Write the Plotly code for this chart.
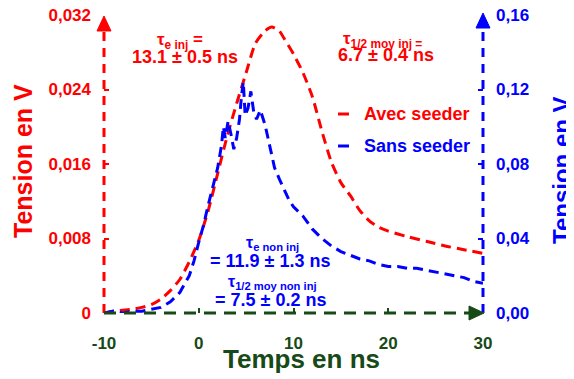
import plotly.graph_objects as go

# ---- data ----
t_avec = [-10, -9, -8, -7, -6, -5, -4, -3, -2, -1, 0, 1, 2, 3, 4, 5, 6, 7, 7.7, 8.5, 9, 10, 11, 12, 13,
          14, 15, 16, 17, 18, 19, 20, 22, 24, 26, 28, 30]
v_avec = [0.0000, 0.0002, 0.0003, 0.0004, 0.0006, 0.0009, 0.0015, 0.0024, 0.0036, 0.0055, 0.0078,
          0.0110, 0.0150, 0.0190, 0.0225, 0.0258, 0.0290, 0.0303, 0.0307, 0.0303, 0.0295, 0.0278,
          0.0258, 0.0232, 0.0195, 0.0162, 0.0140, 0.0126, 0.0110, 0.0099, 0.0092, 0.0088, 0.0082,
          0.0077, 0.0072, 0.0068, 0.0064]

t_sans = [-10, -9, -8, -7, -6, -5, -4, -3, -2, -1, -0.5, 0, 0.5, 1.0, 1.5, 2.0, 2.4, 2.6, 2.8, 3.1,
          3.4, 3.7, 4.0, 4.3, 4.5, 4.7, 4.9, 5.2, 5.5, 5.8, 6.1, 6.5, 7.0, 7.5, 8.0, 8.5, 9.0, 9.5,
          10, 11, 12, 13, 14, 15, 16, 17, 18, 19, 20, 21, 22, 23, 24, 25, 26, 27, 28, 29, 30]
v_sans = [0.000, 0.001, 0.000, 0.001, 0.001, 0.002, 0.003, 0.006, 0.011, 0.020, 0.028, 0.038, 0.047,
          0.058, 0.068, 0.078, 0.090, 0.100, 0.094, 0.103, 0.096, 0.088, 0.094, 0.104, 0.116, 0.124,
          0.106, 0.110, 0.119, 0.108, 0.104, 0.109, 0.101, 0.090, 0.078, 0.072, 0.066, 0.061, 0.057,
          0.052, 0.045, 0.040, 0.036, 0.033, 0.031, 0.029, 0.028, 0.026, 0.025, 0.025, 0.024, 0.024,
          0.023, 0.022, 0.021, 0.020, 0.019, 0.017, 0.016]

x_ticks = [-10, 0, 10, 20, 30]
x_ticklabels = ['-10', '0', '10', '20', '30']
yl_ticks = [0, 0.008, 0.016, 0.024, 0.032]
yl_ticklabels = ['0', '0,008', '0,016', '0,024', '0,032']
yr_ticks = [0, 0.04, 0.08, 0.12, 0.16]
yr_ticklabels = ['0,00', '0,04', '0,08', '0,12', '0,16']

RED = '#ff0000'
BLUE = '#0000ff'
GREEN = '#174a17'
FONT = 'Liberation Sans, Arial, sans-serif'

# page offset (body margin) and target plot area in screen pixels
OFF = 8
SW, SH = 574, 379
PL, PR, PT, PB = 104, 483, 15, 313          # plot area edges on screen
W, H = SW - OFF, SH - OFF
L, T = PL - OFF, PT - OFF
PW, PH = PR - PL, PB - PT
R, B = W - L - PW, H - T - PH


def px(x):
    return (x - PL) / PW


def py(y):
    return (PB - y) / PH


fig = go.Figure()
fig.add_trace(go.Scatter(x=t_avec, y=v_avec, mode='lines', name='Avec seeder', yaxis='y',
                         line=dict(color=RED, width=3, dash='10px,6px', shape='spline', smoothing=0.6),
                         showlegend=False))
fig.add_trace(go.Scatter(x=t_sans, y=v_sans, mode='lines', name='Sans seeder', yaxis='y2',
                         line=dict(color=BLUE, width=3, dash='10px,6px'),
                         showlegend=False))

shapes = []
# axis lines (dashed) + arrow heads
shapes.append(dict(type='line', xref='paper', yref='paper', x0=0, x1=0, y0=0, y1=py(28),
                   line=dict(color=RED, width=3, dash='9px,7px')))
shapes.append(dict(type='path', xref='paper', yref='paper', fillcolor=RED, line=dict(color=RED, width=1),
                   path=f'M {px(104)},{py(16)} L {px(97)},{py(31)} L {px(111)},{py(31)} Z'))
shapes.append(dict(type='line', xref='paper', yref='paper', x0=1, x1=1, y0=0, y1=py(26),
                   line=dict(color=BLUE, width=3, dash='9px,7px')))
shapes.append(dict(type='path', xref='paper', yref='paper', fillcolor=BLUE, line=dict(color=BLUE, width=1),
                   path=f'M {px(483)},{py(13)} L {px(476)},{py(28)} L {px(490)},{py(28)} Z'))
shapes.append(dict(type='line', xref='paper', yref='paper', x0=0, x1=px(470), y0=0, y1=0,
                   line=dict(color=GREEN, width=3, dash='12px,8px')))
shapes.append(dict(type='path', xref='paper', yref='paper', fillcolor=GREEN, line=dict(color=GREEN, width=1),
                   path=f'M {px(484)},{py(313)} L {px(469)},{py(306)} L {px(469)},{py(320)} Z'))
# legend dashes
shapes.append(dict(type='line', xref='paper', yref='paper', x0=px(338), x1=px(349), y0=py(114), y1=py(114),
                   line=dict(color=RED, width=3)))
shapes.append(dict(type='line', xref='paper', yref='paper', x0=px(338), x1=px(349), y0=py(146), y1=py(146),
                   line=dict(color=BLUE, width=3)))

annotations = []


def ann(text, x, y, color, size, angle=0, anchor='center'):
    annotations.append(dict(text=text, x=px(x), y=py(y), xref='paper', yref='paper', showarrow=False,
                            xanchor=anchor, yanchor='middle', textangle=angle,
                            font=dict(family=FONT, size=size, color=color, weight='bold')))


ann('Tension en V', 23, 161, RED, 25, -90)
ann('Tension en V', 561, 170, BLUE, 24, -90)
ann('Temps en ns', 301, 359, GREEN, 26)
ann('τ<sub>e inj</sub> =', 180, 41, RED, 17)
ann('13.1 ± 0.5 ns', 185, 57, RED, 18)
ann('τ<sub>1/2 moy inj =</sub>', 382, 40, RED, 17)
ann('6.7 ± 0.4 ns', 386, 55, RED, 18)
ann('τ<sub>e non inj</sub>', 272, 243, BLUE, 16)
ann('= 11.9 ± 1.3 ns', 270, 261, BLUE, 18)
ann('τ<sub>1/2 moy non inj</sub>', 272, 282, BLUE, 16)
ann('= 7.5 ± 0.2 ns', 270, 300, BLUE, 18)
ann('Avec seeder', 362, 114, RED, 18, anchor='left')
ann('Sans seeder', 362, 146, BLUE, 18, anchor='left')

fig.update_layout(
    width=W, height=H,
    margin=dict(l=L, r=R, t=T, b=B, pad=0, autoexpand=False),
    paper_bgcolor='white', plot_bgcolor='white',
    showlegend=False,
    shapes=shapes,
    annotations=annotations,
    xaxis=dict(range=[-10, 30], tickvals=x_ticks, ticktext=x_ticklabels, ticks='inside', ticklen=5,
               tickwidth=2, tickcolor=GREEN, showgrid=False, zeroline=False, showline=False,
               ticklabelstandoff=18, automargin=False, ticklabeloverflow='allow',
               tickfont=dict(family=FONT, size=17, color=GREEN, weight='bold')),
    yaxis=dict(range=[0, 0.032], tickvals=yl_ticks, ticktext=yl_ticklabels, ticks='inside', ticklen=5,
               tickwidth=2, tickcolor=RED, showgrid=False, zeroline=False, showline=False,
               ticklabelstandoff=12, automargin=False, ticklabeloverflow='allow',
               tickfont=dict(family=FONT, size=17, color=RED, weight='bold')),
    yaxis2=dict(range=[0, 0.16], tickvals=yr_ticks, ticktext=yr_ticklabels, ticks='inside', ticklen=5,
                tickwidth=2, tickcolor=BLUE, showgrid=False, zeroline=False, showline=False,
                overlaying='y', side='right', anchor='x', ticklabelstandoff=12, automargin=False,
                ticklabeloverflow='allow',
                tickfont=dict(family=FONT, size=17, color=BLUE, weight='bold')),
)

fig.write_html('out.html')
